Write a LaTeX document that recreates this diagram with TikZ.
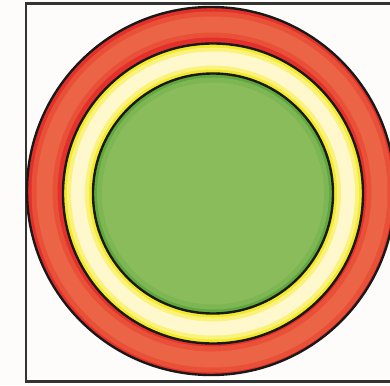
\documentclass[tikz,border=0pt]{standalone}
\definecolor{bgc}{HTML}{FDFCFA}
\definecolor{redd}{HTML}{E4302A}
\definecolor{redm}{HTML}{E95038}
\definecolor{redc}{HTML}{EC6446}
\definecolor{yeld}{HTML}{F2EA2A}
\definecolor{yelm}{HTML}{FAF27A}
\definecolor{yelc}{HTML}{FFF8CC}
\definecolor{grnd}{HTML}{5FA83C}
\definecolor{grnm}{HTML}{7DB652}
\definecolor{grnc}{HTML}{8BBC5C}
\definecolor{framec}{HTML}{333333}
\tikzset{outline/.style={draw=black!90, line width=2.4pt}}
\begin{document}
\begin{tikzpicture}[x=1pt,y=-1pt]
\useasboundingbox (0,0) rectangle (390,385);
\clip (0,0) rectangle (390,385);
\fill[bgc] (0,0) rectangle (390,385);
\draw[framec, line width=2.6pt] (26,3.5) rectangle (400,381.5);
% outer red ring
\fill[redd] (211,191) circle (184);
\draw[redm, line width=26pt] (212,192) circle (167.5);
\draw[redc, line width=16pt] (212,192) circle (167.5);
% yellow ring
\fill[yeld] (213,193.5) circle (150);
\draw[yelm, line width=22pt] (213,193.5) circle (135);
\draw[yelc, line width=14pt] (213,193.5) circle (135);
\draw[outline] (213,193.5) circle (150);
\draw[outline] (211,191) circle (184);
% green disk
\fill[grnd] (213,193.5) circle (120);
\fill[grnm] (213,193.5) circle (116);
\fill[grnc] (213,193.5) circle (111);
\draw[outline] (213,193.5) circle (120);
\end{tikzpicture}
\end{document}
